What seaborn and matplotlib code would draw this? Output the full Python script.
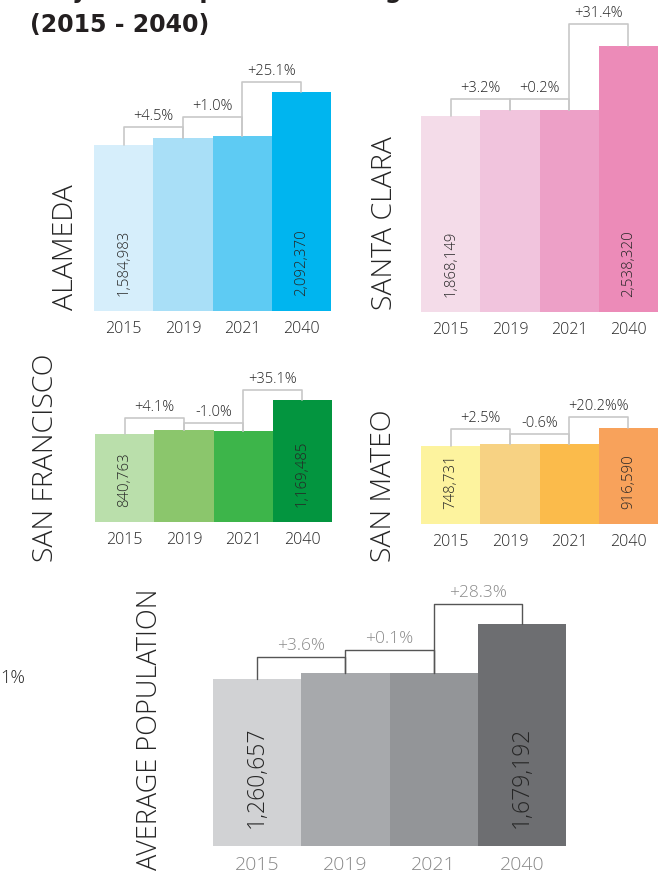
import matplotlib
matplotlib.use("Agg")
import matplotlib.pyplot as plt
import seaborn as sns
import pandas as pd

years = ["2015", "2019", "2021", "2040"]
alameda = [1584983, 1656300, 1672900, 2092370]
santa_clara = [1868149, 1927900, 1931800, 2538320]
san_francisco = [840763, 875200, 866500, 1169485]
san_mateo = [748731, 767400, 762800, 916590]
average = [1260657, 1306000, 1307300, 1679192]

alameda_pct = ["+4.5%", "+1.0%", "+25.1%"]
santa_clara_pct = ["+3.2%", "+0.2%", "+31.4%"]
san_francisco_pct = ["+4.1%", "-1.0%", "+35.1%"]
san_mateo_pct = ["+2.5%", "-0.6%", "+20.2%%"]
average_pct = ["+3.6%", "+0.1%", "+28.3%"]

alameda_colors = ["#d6eefb", "#a9dff7", "#5ecbf3", "#00b5ef"]
santa_clara_colors = ["#f4dce9", "#f1c4dd", "#eda0c7", "#ec8bb8"]
san_francisco_colors = ["#badfab", "#8bc66c", "#3db54a", "#03953f"]
san_mateo_colors = ["#fdf39e", "#f7d283", "#fbbb4b", "#f8a25b"]
average_colors = ["#d1d2d4", "#a7a9ac", "#939598", "#6d6e71"]

W, H = 671, 874
sns.set_style("white")
plt.rcParams["font.family"] = ["Open Sans", "DejaVu Sans"]
plt.rcParams["font.weight"] = "light"

fig = plt.figure(figsize=(W / 100, H / 100), dpi=100)
TXT = "#262626"


def panel(name, values, pcts, colors, box, name_x, name_bottom, lifts, big=False):
    left, right, bottom, top = box
    scale = 1.325e-4 if big else 1.047e-4  # px per person
    ax = fig.add_axes([left / W, 1 - bottom / H, (right - left) / W, (bottom - top) / H])
    df = pd.DataFrame({"year": years, "pop": values})
    sns.barplot(data=df, x="year", y="pop", hue="year", palette=colors, legend=False,
                width=1.0, saturation=1, ax=ax, linewidth=0)
    ax.set_xlim(-0.5, 3.5)
    ax.set_ylim(0, (bottom - top) / scale)
    ax.patch.set_alpha(0)
    sns.despine(ax=ax, left=True, bottom=True)
    ax.set_yticks([])
    ax.set_xlabel("")
    ax.set_ylabel("")
    ax.tick_params(axis="x", length=0, pad=7 if not big else 7,
                   labelsize=14 if big else 11.5, labelcolor="#888888" if big else TXT)

    px = 1 / scale
    line_c = "#555555" if big else "#c8c8c8"
    for i in range(3):
        ytop = max(values[i], values[i + 1]) + lifts[i] * px
        ax.plot([i, i, i + 1, i + 1], [values[i], ytop, ytop, values[i + 1]],
                color=line_c, lw=1.0 if big else 1.2, clip_on=False, zorder=1)
        ax.text(i + 0.5, ytop + 3 * px, pcts[i], ha="center", va="bottom",
                fontsize=12.5 if big else 10.5, color="#8a8a8a" if big else TXT)

    for i in (0, 3):
        ax.text(i, (18 if big else 15) * px, f"{values[i]:,}", rotation=90,
                ha="center", va="bottom", fontsize=16.5 if big else 10.8, color=TXT)

    fig.text(name_x / W, 1 - name_bottom / H, name, rotation=90, ha="center", va="bottom",
             fontsize=19.5 if big else 20.5, color=TXT)


panel("ALAMEDA", alameda, alameda_pct, alameda_colors, (94, 331, 311, 60), 66, 310, [11, 19, 10])
panel("SANTA CLARA", santa_clara, santa_clara_pct, santa_clara_colors, (421, 658, 312, 5), 385, 310, [11, 11, 22])
panel("SAN FRANCISCO", san_francisco, san_francisco_pct, san_francisco_colors, (95, 332, 522, 370), 46, 562, [12, 7, 10])
panel("SAN MATEO", san_mateo, san_mateo_pct, san_mateo_colors, (421, 658, 524, 400), 384, 562, [15, 10, 11])
panel("AVERAGE POPULATION", average, average_pct, average_colors, (213, 566, 846, 580), 150, 870, [16, 23, 20], big=True)

# title (first line runs off the top of the canvas, as in the source image)
fig.text(30 / W, 1 + 2 / H, "Projected Population Change", fontsize=17, fontweight="bold",
         va="baseline", color="#231f20", family="DejaVu Sans")
fig.text(30 / W, 1 - 32 / H, "(2015 - 2040)", fontsize=17, fontweight="bold",
         va="baseline", color="#231f20", family="DejaVu Sans")
fig.text(0, 1 - 683 / H, "1%", fontsize=13, va="baseline", color=TXT)

fig.savefig("out.png", dpi=100)
